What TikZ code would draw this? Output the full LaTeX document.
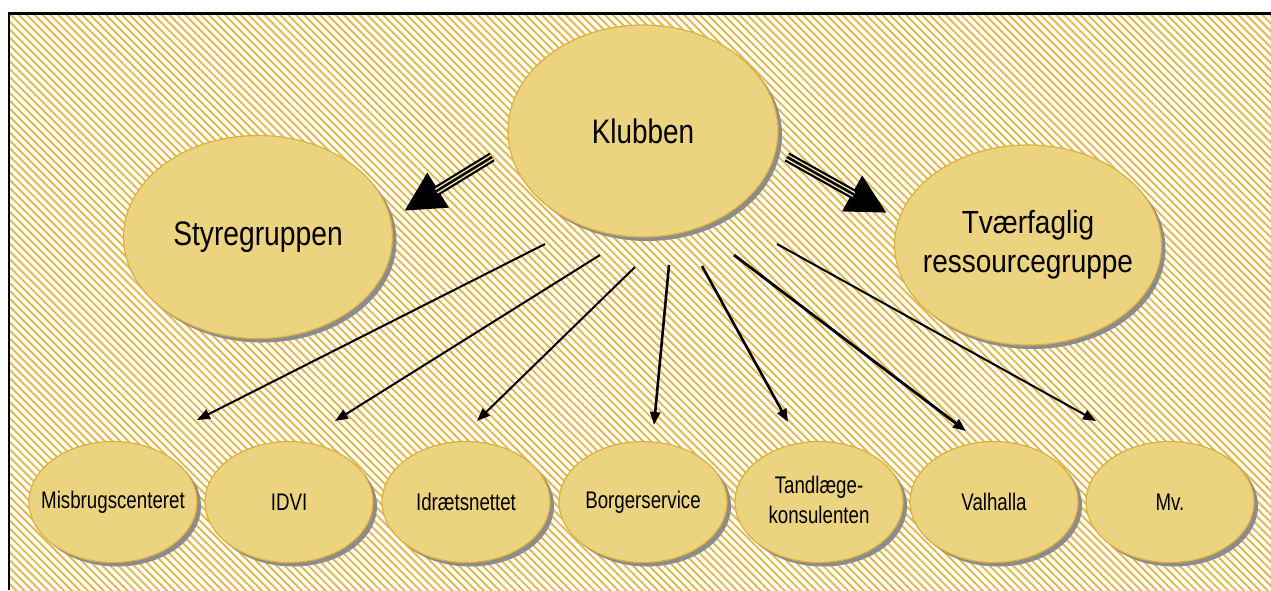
\documentclass[tikz,border=0pt]{standalone}
\usepackage{fontspec}
\setmainfont{Liberation Sans}
\usepackage{graphicx}
\usetikzlibrary{shapes.geometric,shadows,patterns.meta,arrows.meta}
\definecolor{hatch}{RGB}{226,184,70}
\definecolor{bubfill}{RGB}{236,211,128}
\definecolor{bubline}{RGB}{222,176,56}
\definecolor{shaftgap}{RGB}{240,224,170}
\newcommand\condensed[2]{\makebox[0pt][c]{\scalebox{#1}[1]{#2}}}
\tikzset{
  bub/.style={ellipse, fill=bubfill, draw=bubline, line width=1.2pt, inner sep=0pt,
    drop shadow={shadow xshift=4pt, shadow yshift=-4pt, fill=black!45, opacity=1}},
  small/.style={bub, minimum width=168pt, minimum height=121pt,
    font=\fontsize{24}{30}\selectfont},
  big/.style={bub, font=\fontsize{34}{40}\selectfont},
  thin arrow/.style={draw=black, line width=2pt, -{Triangle[length=13pt,width=10pt]}},
  thick head/.style={draw=black, line width=10pt, -{Triangle[length=40pt,width=38pt]}},
  thick gap/.style={draw=shaftgap, line width=5.5pt, shorten >=38pt},
  thick core/.style={draw=black, line width=2.5pt, shorten >=38pt}
}
\begin{document}
\begin{tikzpicture}[x=1pt,y=-1pt]
\useasboundingbox (0,0) rectangle (1271,590);
% background
\fill[white] (0,0) rectangle (1271,590);
\fill[pattern={Lines[angle=-45,distance=5.6pt,line width=1.9pt]}, pattern color=hatch]
  (10,14) rectangle (1271,590);
\draw[line width=2.5pt] (9,590) -- (9,13.5) -- (1271,13.5);

% top nodes
\node[big, minimum width=270pt, minimum height=212pt] (K) at (643,131)
  {\condensed{0.82}{Klubben}};
\node[big, minimum width=269pt, minimum height=203pt] (S) at (258,237)
  {\condensed{0.83}{Styregruppen}};
\node[big, minimum width=267pt, minimum height=200pt, font=\fontsize{32}{40}\selectfont] (T) at (1028,245)
  {\condensed{0.875}{\begin{tabular}{@{}c@{}}Tværfaglig\\[-1pt]ressourcegruppe\end{tabular}}};

% bottom nodes
\node[small] (B1) at (113,502) {\condensed{0.78}{Misbrugscenteret}};
\node[small] (B2) at (289,502) {\condensed{0.78}{IDVI}};
\node[small] (B3) at (466,502) {\condensed{0.78}{Idrætsnettet}};
\node[small] (B4) at (643,502) {\condensed{0.78}{Borgerservice}};
\node[small] (B5) at (819,502) {\condensed{0.78}{\begin{tabular}{@{}c@{}}Tandlæge-\\[0pt]konsulenten\end{tabular}}};
\node[small] (B6) at (994,502) {\condensed{0.78}{Valhalla}};
\node[small] (B7) at (1170,502) {\condensed{0.78}{Mv.}};

% arrow end points
\coordinate (LS) at (492,157);
\coordinate (LT) at (404,211);
\coordinate (RS) at (787,157);
\coordinate (RT) at (887,213);
\coordinate (s1) at (545,244);  \coordinate (e1) at (197,420);
\coordinate (s2) at (600,255);  \coordinate (e2) at (335,421);
\coordinate (s3) at (635,267);  \coordinate (e3) at (477,421);
\coordinate (s4) at (669,265);  \coordinate (e4) at (654,425);
\coordinate (s5) at (702,266);  \coordinate (e5) at (788,422);
\coordinate (s6) at (734,255);  \coordinate (e6) at (966,431);
\coordinate (s7) at (777,244);  \coordinate (e7) at (1096,421);

% thick arrows
\draw[thick head] (LS) -- (LT);
\draw[thick gap] (LS) -- (LT);
\draw[thick core] (LS) -- (LT);
\draw[thick head] (RS) -- (RT);
\draw[thick gap] (RS) -- (RT);
\draw[thick core] (RS) -- (RT);

% thin arrows
\draw[thin arrow] (s1) -- (e1);
\draw[thin arrow] (s2) -- (e2);
\draw[thin arrow] (s3) -- (e3);
\draw[thin arrow, line width=2.6pt] (s4) -- (e4);
\draw[thin arrow, line width=2.6pt] (s5) -- (e5);
\draw[thin arrow, line width=2.8pt] (s6) -- (e6);
\draw[thin arrow] (s7) -- (e7);
\end{tikzpicture}
\end{document}
